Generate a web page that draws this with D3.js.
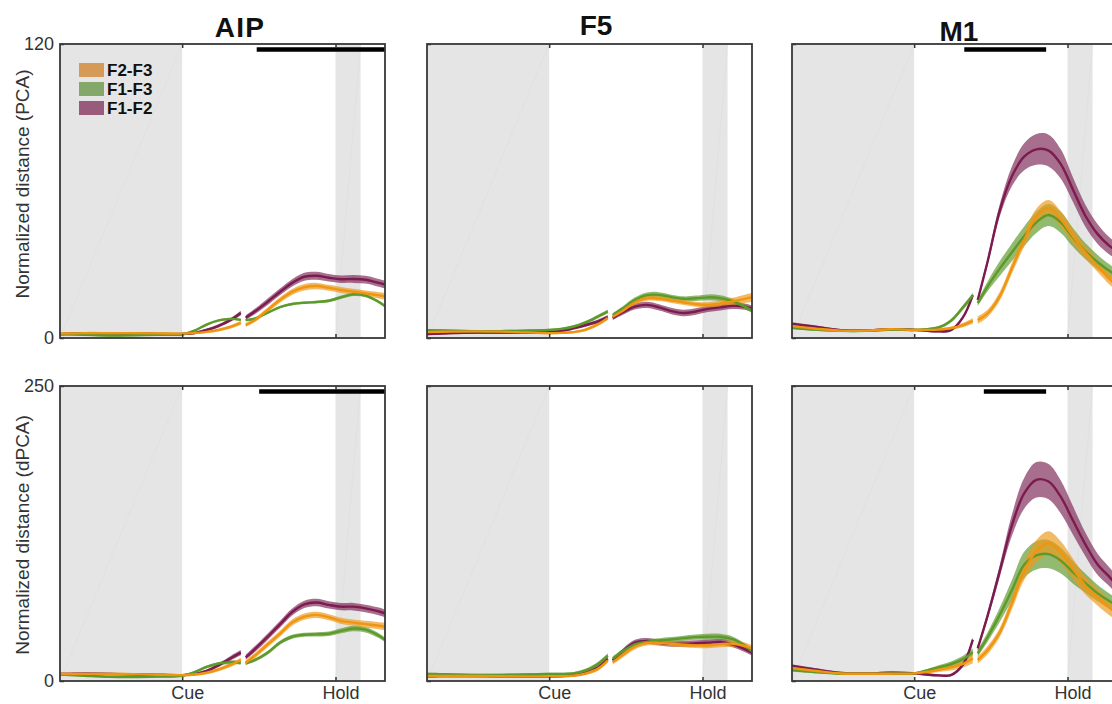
<!DOCTYPE html>
<html>
<head>
<meta charset="utf-8">
<script src="https://cdn.jsdelivr.net/npm/d3@7"></script>
<style>
  body { margin: 0; background: #fff; }
  svg { display: block; }
  text { font-family: "Liberation Sans", Arial, Helvetica, sans-serif; }
</style>
</head>
<body>
<svg id="chart" width="1112" height="704"></svg>
<script>
// ---- Data -------------------------------------------------------------
const AREAS = ["AIP", "F5", "M1"];
const PAIRS = ["F2-F3", "F1-F3", "F1-F2"];
const EVENT_LABELS = ["Cue", "Hold"];
const EVENT_TIMES = [0, 1255];          // ms, relative to cue
const HOLD_WINDOW = [1255, 1460];       // shaded hold epoch
const BASELINE_WINDOW = [-1000, 0];     // shaded pre-cue epoch
const TIME_DOMAIN = [-1000, 1660];

// Sample times; null splits the cue-aligned and movement-aligned segments
const TIME = [-1000, -800, -600, -400, -200, 0, 100, 200, 300, 400, 480, null,
              520, 600, 700, 800, 900, 1000, 1100, 1200, 1300, 1400, 1500, 1600, 1660];

// PCA distances (mean)
const AIP_PCA_F2F3 = [1.8, 2.0, 2.0, 2.0, 1.9, 1.8, 2.0, 2.5, 3.3, 4.6, 6.2, null, 5.3, 7.5, 11.5, 15.5, 18.8, 20.7, 21.2, 20.5, 19.6, 18.9, 18.2, 17.5, 17.0];
const AIP_PCA_F1F3 = [1.5, 1.3, 1.0, 1.1, 1.3, 1.5, 3.0, 5.5, 7.2, 7.8, 7.4, null, 7.3, 8.0, 10.3, 12.6, 13.9, 14.4, 14.7, 15.2, 16.6, 17.8, 17.3, 15.0, 13.0];
const AIP_PCA_F1F2 = [1.6, 1.9, 1.9, 1.8, 1.6, 1.6, 2.0, 3.3, 5.0, 7.5, 10.2, null, 8.3, 11.0, 14.8, 18.8, 22.5, 25.0, 25.4, 24.6, 24.0, 24.1, 23.8, 22.6, 21.8];
const F5_PCA_F2F3 = [2.4, 2.6, 2.7, 2.6, 2.3, 2.0, 2.1, 2.4, 3.4, 5.6, 8.2, null, 8.7, 11.0, 14.5, 16.2, 16.1, 15.3, 14.5, 13.8, 13.5, 14.0, 14.9, 16.0, 16.6];
const F5_PCA_F1F3 = [3.2, 3.0, 2.8, 2.8, 3.0, 3.3, 3.7, 4.7, 6.4, 8.8, 10.8, null, 9.4, 12.0, 15.5, 17.5, 17.6, 16.7, 16.0, 16.2, 16.6, 16.3, 15.0, 12.8, 11.2];
const F5_PCA_F1F2 = [1.6, 2.0, 2.2, 2.2, 2.2, 2.4, 2.9, 4.0, 5.3, 6.8, 8.5, null, 8.2, 10.4, 12.8, 13.5, 12.5, 11.0, 10.2, 10.8, 11.9, 12.5, 13.1, 12.8, 12.0];
const M1_PCA_F2F3 = [4.9, 3.8, 3.0, 3.0, 3.6, 3.3, 3.3, 3.4, 4.0, 5.3, 7.0, null, 7.3, 10.0, 17.0, 28.5, 40.0, 49.5, 53.0, 48.5, 41.5, 35.0, 29.5, 24.0, 21.5];
const M1_PCA_F1F3 = [4.2, 3.4, 2.9, 2.9, 3.4, 3.3, 3.6, 4.3, 7.0, 12.5, 17.3, null, 14.2, 21.0, 28.3, 35.0, 41.5, 47.2, 50.2, 47.2, 41.0, 35.5, 31.0, 27.3, 25.5];
const M1_PCA_F1F2 = [5.7, 4.5, 3.2, 3.0, 3.6, 3.3, 3.0, 2.7, 3.2, 8.5, 17.5, null, 15.5, 31.0, 52.0, 66.0, 74.0, 77.0, 76.5, 71.0, 60.5, 50.0, 42.5, 37.5, 35.5];

// PCA distances (standard error)
const AIP_PCA_F2F3_SEM = [0.4, 0.4, 0.4, 0.4, 0.4, 0.4, 0.4, 0.5, 0.6, 0.7, 0.8, null, 0.8, 0.9, 1.0, 1.1, 1.2, 1.3, 1.3, 1.2, 1.2, 1.2, 1.2, 1.3, 1.4];
const AIP_PCA_F1F3_SEM = [0.4, 0.4, 0.4, 0.4, 0.4, 0.4, 0.4, 0.5, 0.5, 0.5, 0.5, null, 0.5, 0.5, 0.5, 0.5, 0.5, 0.5, 0.5, 0.6, 0.7, 0.7, 0.7, 0.6, 0.6];
const AIP_PCA_F1F2_SEM = [0.5, 0.5, 0.5, 0.5, 0.5, 0.5, 0.5, 0.6, 0.7, 0.8, 0.9, null, 0.9, 1.1, 1.3, 1.4, 1.5, 1.6, 1.6, 1.5, 1.5, 1.6, 1.6, 1.6, 1.6];
const F5_PCA_F2F3_SEM = [0.5, 0.5, 0.5, 0.5, 0.5, 0.5, 0.5, 0.5, 0.6, 0.7, 0.8, null, 0.8, 0.9, 1.0, 1.0, 1.0, 1.0, 1.0, 1.0, 1.1, 1.3, 1.5, 1.7, 1.9];
const F5_PCA_F1F3_SEM = [0.5, 0.5, 0.5, 0.5, 0.5, 0.5, 0.5, 0.5, 0.6, 0.7, 0.8, null, 0.8, 0.9, 1.0, 1.1, 1.1, 1.0, 1.0, 1.1, 1.2, 1.2, 1.1, 1.0, 1.0];
const F5_PCA_F1F2_SEM = [0.5, 0.5, 0.5, 0.5, 0.5, 0.5, 0.5, 0.6, 0.7, 0.8, 0.9, null, 0.9, 1.0, 1.2, 1.3, 1.3, 1.3, 1.3, 1.3, 1.3, 1.3, 1.3, 1.3, 1.3];
const M1_PCA_F2F3_SEM = [0.6, 0.5, 0.5, 0.5, 0.5, 0.5, 0.5, 0.6, 0.7, 0.9, 1.2, null, 1.5, 1.5, 1.8, 2.2, 2.8, 3.3, 3.3, 3.2, 3.0, 2.7, 2.5, 2.3, 2.2];
const M1_PCA_F1F3_SEM = [0.6, 0.5, 0.5, 0.5, 0.5, 0.5, 0.5, 0.6, 0.8, 1.0, 1.2, null, 1.2, 2.0, 3.0, 3.6, 4.0, 4.3, 4.5, 4.3, 3.8, 3.3, 3.0, 2.7, 2.5];
const M1_PCA_F1F2_SEM = [0.7, 0.6, 0.5, 0.5, 0.5, 0.5, 0.5, 0.5, 0.5, 0.6, 0.7, null, 1.0, 1.5, 2.5, 4.0, 5.5, 6.3, 6.5, 6.0, 5.0, 4.5, 4.0, 3.5, 3.3];

// dPCA distances (mean)
const AIP_DPCA_F2F3 = [5.9, 6.0, 6.0, 5.8, 5.3, 5.0, 5.5, 7.0, 9.8, 13.8, 17.8, null, 15.5, 22.0, 31.0, 40.0, 49.5, 54.5, 56.0, 54.0, 51.0, 49.5, 48.2, 47.0, 46.0];
const AIP_DPCA_F1F3 = [5.5, 4.5, 3.6, 3.4, 3.8, 4.5, 7.5, 12.0, 14.8, 16.0, 15.5, null, 15.0, 18.0, 24.0, 32.5, 37.5, 39.2, 39.5, 40.0, 42.5, 44.5, 43.5, 39.0, 35.0];
const AIP_DPCA_F1F2 = [5.9, 6.2, 6.0, 5.6, 5.2, 5.0, 5.8, 8.5, 13.5, 19.5, 24.0, null, 20.0, 27.5, 37.5, 48.0, 58.5, 65.0, 66.5, 64.5, 63.0, 63.0, 61.5, 59.2, 57.4];
const F5_DPCA_F2F3 = [4.2, 4.3, 4.2, 4.0, 3.9, 4.0, 4.0, 4.6, 6.5, 10.5, 17.5, null, 16.0, 22.0, 29.0, 32.3, 32.3, 31.6, 30.8, 30.2, 30.1, 31.2, 31.6, 29.8, 27.5];
const F5_DPCA_F1F3 = [5.9, 5.6, 5.2, 5.2, 5.5, 5.9, 6.0, 6.5, 9.0, 14.5, 21.5, null, 19.0, 25.0, 31.0, 33.2, 34.3, 35.2, 36.3, 37.2, 37.5, 37.5, 35.5, 30.0, 25.0];
const F5_DPCA_F1F2 = [4.0, 4.2, 4.2, 4.0, 3.9, 4.0, 4.2, 5.0, 7.0, 11.5, 18.8, null, 17.5, 25.0, 32.5, 34.0, 32.5, 31.5, 31.6, 32.0, 32.5, 33.0, 31.0, 27.0, 24.0];
const M1_DPCA_F2F3 = [11.0, 8.5, 6.4, 6.2, 6.2, 6.5, 7.6, 9.5, 11.5, 14.5, 19.0, null, 17.8, 26.0, 41.0, 66.0, 93.0, 110.0, 117.0, 109.0, 95.0, 81.0, 71.0, 62.0, 57.0];
const M1_DPCA_F1F3 = [9.3, 7.5, 6.2, 6.2, 6.2, 6.5, 8.8, 11.5, 14.2, 18.5, 24.5, null, 23.5, 37.0, 56.0, 77.0, 98.5, 106.5, 107.5, 102.0, 92.0, 83.0, 74.5, 67.5, 64.0];
const M1_DPCA_F1F2 = [12.7, 9.5, 6.8, 6.3, 7.0, 6.5, 5.5, 4.8, 5.0, 14.0, 35.0, null, 27.7, 55.0, 93.0, 132.0, 159.0, 170.5, 169.0, 156.0, 136.0, 116.0, 99.0, 88.0, 81.0];

// dPCA distances (standard error)
const AIP_DPCA_F2F3_SEM = [1.0, 1.0, 1.0, 1.0, 1.0, 1.0, 1.0, 1.2, 1.5, 1.8, 2.0, null, 2.0, 2.2, 2.4, 2.5, 2.6, 2.6, 2.6, 2.6, 2.6, 2.7, 2.8, 3.0, 3.2];
const AIP_DPCA_F1F3_SEM = [0.9, 0.9, 0.9, 0.9, 0.9, 0.9, 1.0, 1.2, 1.4, 1.5, 1.5, null, 1.5, 1.5, 1.6, 1.7, 1.7, 1.7, 1.8, 1.9, 2.1, 2.3, 2.3, 2.2, 2.0];
const AIP_DPCA_F1F2_SEM = [1.0, 1.0, 1.0, 1.0, 1.0, 1.0, 1.0, 1.3, 1.7, 2.0, 2.2, null, 2.2, 2.5, 2.7, 2.9, 3.0, 3.1, 3.1, 3.1, 3.1, 3.2, 3.2, 3.3, 3.3];
const F5_DPCA_F2F3_SEM = [1.0, 1.0, 1.0, 1.0, 1.0, 1.0, 1.0, 1.2, 1.5, 1.8, 2.0, null, 2.0, 2.2, 2.2, 2.2, 2.2, 2.2, 2.2, 2.2, 2.3, 2.5, 2.7, 2.8, 2.8];
const F5_DPCA_F1F3_SEM = [1.0, 1.0, 1.0, 1.0, 1.0, 1.0, 1.0, 1.2, 1.5, 1.8, 2.0, null, 2.0, 2.0, 2.0, 2.0, 2.0, 2.0, 2.1, 2.3, 2.5, 2.5, 2.3, 2.0, 2.0];
const F5_DPCA_F1F2_SEM = [1.0, 1.0, 1.0, 1.0, 1.0, 1.0, 1.0, 1.2, 1.5, 1.8, 2.0, null, 2.0, 2.2, 2.4, 2.5, 2.5, 2.5, 2.5, 2.5, 2.5, 2.5, 2.5, 2.5, 2.5];
const M1_DPCA_F2F3_SEM = [1.5, 1.2, 1.0, 1.0, 1.0, 1.0, 1.2, 1.8, 2.5, 3.2, 4.0, null, 3.0, 3.5, 4.0, 5.5, 7.5, 9.5, 10.0, 9.5, 8.5, 7.5, 7.0, 6.5, 6.0];
const M1_DPCA_F1F3_SEM = [1.5, 1.2, 1.0, 1.0, 1.0, 1.0, 1.2, 1.8, 2.4, 3.0, 3.0, null, 3.0, 4.0, 6.0, 8.5, 11.0, 12.0, 12.0, 11.0, 9.5, 8.0, 7.0, 6.5, 6.0];
const M1_DPCA_F1F2_SEM = [1.5, 1.2, 1.0, 1.0, 1.0, 1.0, 1.0, 1.0, 1.0, 1.5, 2.0, null, 2.0, 3.0, 5.0, 9.0, 13.0, 15.0, 15.0, 14.0, 12.0, 10.0, 9.0, 8.0, 7.5];

// Significance windows (ms) per area, [] when none
const SIG_PCA = [[610, 1660], [], [410, 1080]];
const SIG_DPCA = [[630, 1660], [], [570, 1080]];

// ---- Layout & styles --------------------------------------------------
const PAIR_LINE = { "F2-F3": "#ef950f", "F1-F3": "#5c9a2c", "F1-F2": "#7b1b4e" };
const PAIR_BAND = { "F2-F3": "#ee9a1e", "F1-F3": "#5e9a2c", "F1-F2": "#7f2a58" };
const PAIR_SWATCH = { "F2-F3": "#d69a58", "F1-F3": "#83a86a", "F1-F2": "#9a5a7c" };
const DRAW_ORDER = ["F1-F2", "F1-F3", "F2-F3"];

const panelLeft = [60, 427, 792];
const panelWidth = 325;

const rows = [
  {
    yMax: 120, top: 44, bottom: 338, label: "Normalized distance (PCA)", labelY: 184,
    sig: SIG_PCA,
    mean: [
      { "F2-F3": AIP_PCA_F2F3, "F1-F3": AIP_PCA_F1F3, "F1-F2": AIP_PCA_F1F2 },
      { "F2-F3": F5_PCA_F2F3, "F1-F3": F5_PCA_F1F3, "F1-F2": F5_PCA_F1F2 },
      { "F2-F3": M1_PCA_F2F3, "F1-F3": M1_PCA_F1F3, "F1-F2": M1_PCA_F1F2 }
    ],
    sem: [
      { "F2-F3": AIP_PCA_F2F3_SEM, "F1-F3": AIP_PCA_F1F3_SEM, "F1-F2": AIP_PCA_F1F2_SEM },
      { "F2-F3": F5_PCA_F2F3_SEM, "F1-F3": F5_PCA_F1F3_SEM, "F1-F2": F5_PCA_F1F2_SEM },
      { "F2-F3": M1_PCA_F2F3_SEM, "F1-F3": M1_PCA_F1F3_SEM, "F1-F2": M1_PCA_F1F2_SEM }
    ],
    xLabels: false
  },
  {
    yMax: 250, top: 386, bottom: 681, label: "Normalized distance (dPCA)", labelY: 535,
    sig: SIG_DPCA,
    mean: [
      { "F2-F3": AIP_DPCA_F2F3, "F1-F3": AIP_DPCA_F1F3, "F1-F2": AIP_DPCA_F1F2 },
      { "F2-F3": F5_DPCA_F2F3, "F1-F3": F5_DPCA_F1F3, "F1-F2": F5_DPCA_F1F2 },
      { "F2-F3": M1_DPCA_F2F3, "F1-F3": M1_DPCA_F1F3, "F1-F2": M1_DPCA_F1F2 }
    ],
    sem: [
      { "F2-F3": AIP_DPCA_F2F3_SEM, "F1-F3": AIP_DPCA_F1F3_SEM, "F1-F2": AIP_DPCA_F1F2_SEM },
      { "F2-F3": F5_DPCA_F2F3_SEM, "F1-F3": F5_DPCA_F1F3_SEM, "F1-F2": F5_DPCA_F1F2_SEM },
      { "F2-F3": M1_DPCA_F2F3_SEM, "F1-F3": M1_DPCA_F1F3_SEM, "F1-F2": M1_DPCA_F1F2_SEM }
    ],
    xLabels: true
  }
];

const titlePos = [[240, 37], [596, 35], [959, 41]];
const titleSpacing = [1.2, 0, 0];

// ---- Drawing ------------------------------------------------------------
const svg = d3.select("#chart");

const x = d3.scaleLinear().domain(TIME_DOMAIN).range([0, panelWidth]);
const curve = d3.curveCatmullRom.alpha(0.5);

rows.forEach((row, r) => {
  const h = row.bottom - row.top;
  const y = d3.scaleLinear().domain([0, row.yMax]).range([h, 0]);

  AREAS.forEach((areaName, c) => {
    const g = svg.append("g").attr("transform", `translate(${panelLeft[c]},${row.top})`);
    const clipId = `clip-${r}-${c}`;
    g.append("clipPath").attr("id", clipId)
      .append("rect").attr("x", 0).attr("y", 0).attr("width", panelWidth).attr("height", h);

    // Epoch shading
    [BASELINE_WINDOW, HOLD_WINDOW].forEach(w => {
      g.append("rect")
        .attr("x", x(w[0])).attr("y", 0)
        .attr("width", x(w[1]) - x(w[0])).attr("height", h)
        .attr("fill", "#e5e5e5");
      g.append("line")
        .attr("x1", x(w[0])).attr("y1", h).attr("x2", x(w[1])).attr("y2", 0)
        .attr("stroke", "#dedede").attr("stroke-width", 0.6);
    });

    const plot = g.append("g").attr("clip-path", `url(#${clipId})`);

    const pts = pair => TIME.map((t, i) => ({
      t, v: row.mean[c][pair][i], s: row.sem[c][pair][i]
    }));

    const bandGen = d3.area()
      .defined(d => d.t !== null && d.v !== null)
      .x(d => x(d.t))
      .y0(d => y(d.v - d.s))
      .y1(d => y(d.v + d.s))
      .curve(curve);

    const lineGen = d3.line()
      .defined(d => d.t !== null && d.v !== null)
      .x(d => x(d.t))
      .y(d => y(d.v))
      .curve(curve);

    DRAW_ORDER.forEach(pair => {
      plot.append("path").datum(pts(pair))
        .attr("d", bandGen)
        .attr("fill", PAIR_BAND[pair])
        .attr("fill-opacity", 0.68);
    });
    DRAW_ORDER.forEach(pair => {
      plot.append("path").datum(pts(pair))
        .attr("d", lineGen)
        .attr("fill", "none")
        .attr("stroke", PAIR_LINE[pair])
        .attr("stroke-width", 2.4);
    });

    // Significance bar
    const sig = row.sig[c];
    if (sig.length) {
      g.append("line")
        .attr("x1", x(sig[0])).attr("x2", Math.min(x(sig[1]), panelWidth))
        .attr("y1", 5.5).attr("y2", 5.5)
        .attr("stroke", "#000").attr("stroke-width", 4.5);
    }

    // Axes with inward ticks
    const bottomAxis = d3.axisBottom(x)
      .tickValues(EVENT_TIMES)
      .tickSize(-4)
      .tickPadding(5)
      .tickFormat((d, i) => row.xLabels ? EVENT_LABELS[i] : "");
    const ax = g.append("g").attr("transform", `translate(0,${h})`).call(bottomAxis);
    ax.select(".domain").remove();
    ax.selectAll("line").attr("stroke", "#333").attr("stroke-width", 1.5);
    ax.selectAll("text")
      .attr("font-size", 18).attr("fill", "#333")
      .attr("dx", 5)
      .style("font-family", '"Liberation Sans", Arial, sans-serif');

    const topAxis = d3.axisTop(x).tickValues(EVENT_TIMES).tickSize(-4).tickFormat("");
    const at = g.append("g").call(topAxis);
    at.select(".domain").remove();
    at.selectAll("line").attr("stroke", "#333").attr("stroke-width", 1.5);

    const leftAxis = d3.axisLeft(y)
      .tickValues([0, row.yMax])
      .tickSize(-4)
      .tickPadding(6)
      .tickFormat(d => c === 0 ? d3.format("d")(d) : "");
    const al = g.append("g").call(leftAxis);
    al.select(".domain").remove();
    al.selectAll("line").attr("stroke", "#333").attr("stroke-width", 1.5);
    al.selectAll("text")
      .attr("font-size", 18).attr("fill", "#333")
      .style("font-family", '"Liberation Sans", Arial, sans-serif');

    // Frame
    g.append("rect")
      .attr("x", 0).attr("y", 0).attr("width", panelWidth).attr("height", h)
      .attr("fill", "none").attr("stroke", "#383838").attr("stroke-width", 1.8);

    // Area title
    if (r === 0) {
      svg.append("text")
        .attr("x", titlePos[c][0]).attr("y", titlePos[c][1])
        .attr("text-anchor", "middle")
        .attr("font-size", 28).attr("font-weight", "bold").attr("fill", "#111")
        .attr("letter-spacing", titleSpacing[c])
        .text(areaName);
    }

    // Legend
    if (r === 0 && c === 0) {
      const lg = g.append("g").attr("transform", "translate(19,19)");
      PAIRS.forEach((pair, i) => {
        const item = lg.append("g").attr("transform", `translate(0,${i * 19})`);
        item.append("rect")
          .attr("x", 0).attr("y", 0).attr("width", 25).attr("height", 14)
          .attr("fill", PAIR_SWATCH[pair]);
        item.append("text")
          .attr("x", 28).attr("y", 7).attr("dy", "0.36em")
          .attr("font-size", 17).attr("font-weight", "bold").attr("fill", "#111")
          .text(pair);
      });
    }
  });

  // Row y label
  svg.append("text")
    .attr("transform", `translate(22,${row.labelY}) rotate(-90)`)
    .attr("text-anchor", "middle")
    .attr("dominant-baseline", "central")
    .attr("font-size", 19).attr("fill", "#333")
    .text(row.label);
});
</script>
</body>
</html>
